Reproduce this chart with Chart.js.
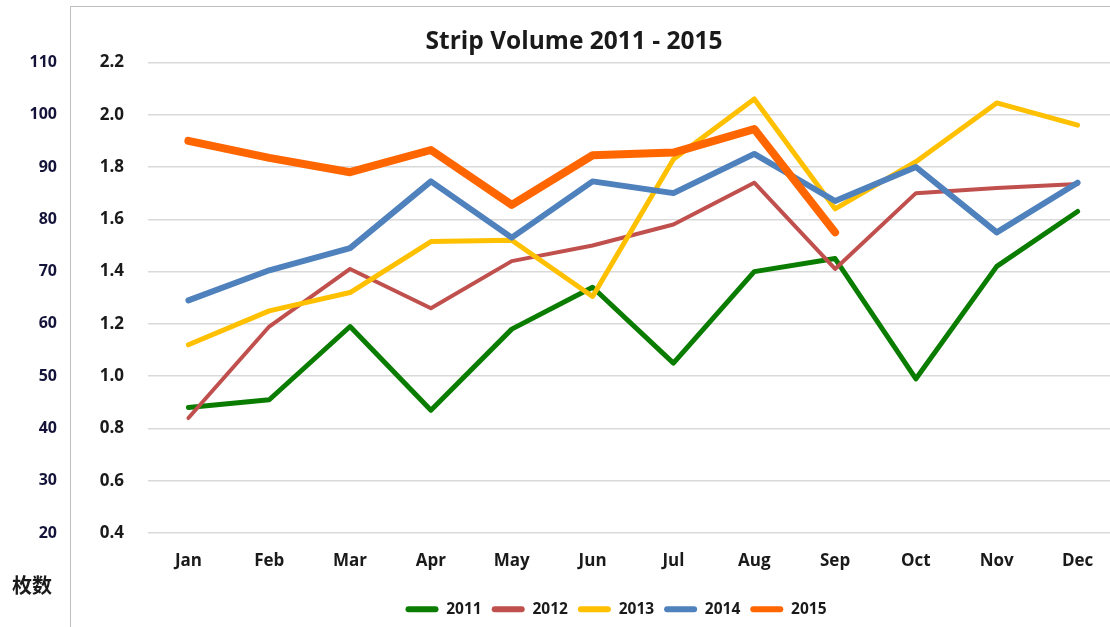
<!DOCTYPE html>
<html>
<head>
<meta charset="utf-8">
<script src="https://cdn.jsdelivr.net/npm/chart.js@4/dist/chart.umd.min.js"></script>
<style>
  html, body { margin: 0; padding: 0; background: #fff; overflow: hidden; }
  #frame { position: absolute; left: 70px; top: 6px; width: 1100px; height: 700px; border: 1px solid #bfbfbf; }
  #wrap { position: absolute; left: 0; top: 0; width: 1118px; height: 627px; }
  #unit { position: absolute; left: 12px; top: 570px; font: bold 20px "Noto Sans CJK SC", sans-serif; color: #1a1a1a; }
</style>
</head>
<body>
<div id="frame"></div>
<div id="wrap"><canvas id="chart"></canvas></div>
<div id="unit">枚数</div>
<script>
const months = ['Jan', 'Feb', 'Mar', 'Apr', 'May', 'Jun', 'Jul', 'Aug', 'Sep', 'Oct', 'Nov', 'Dec'];
const years = ['2011', '2012', '2013', '2014', '2015'];
const vol2011 = [0.88, 0.91, 1.19, 0.87, 1.18, 1.34, 1.05, 1.40, 1.45, 0.99, 1.42, 1.63];
const vol2012 = [0.84, 1.19, 1.41, 1.26, 1.44, 1.50, 1.58, 1.74, 1.41, 1.70, 1.72, 1.735];
const vol2013 = [1.12, 1.25, 1.32, 1.515, 1.52, 1.305, 1.83, 2.06, 1.64, 1.82, 2.045, 1.96];
const vol2014 = [1.29, 1.405, 1.49, 1.745, 1.53, 1.745, 1.70, 1.85, 1.67, 1.80, 1.55, 1.74];
const vol2015 = [1.90, 1.835, 1.78, 1.865, 1.655, 1.845, 1.855, 1.945, 1.55];
const countTicks = [20, 30, 40, 50, 60, 70, 80, 90, 100, 110];

const colors = ['#0a7d00', '#c0504d', '#ffc000', '#4f81bd', '#ff6600'];
const widths = [5, 4, 5, 6, 8];
const series = [vol2011, vol2012, vol2013, vol2014, vol2015];

const font = 'Open Sans';

// title and legend sit off-centre in the original, nudge them sideways
const nudge = {
  id: 'nudge',
  afterLayout(c) {
    c.titleBlock.left += 15; c.titleBlock.right += 15;
    c.legend.left += 57; c.legend.right += 57;
  }
};

const ctx = document.getElementById('chart').getContext('2d');
const chart = new Chart(ctx, {
  type: 'line',
  data: {
    labels: months,
    datasets: years.map((y, i) => ({
      label: y,
      data: series[i],
      borderColor: colors[i],
      backgroundColor: colors[i],
      borderWidth: widths[i],
      borderCapStyle: 'round',
      borderJoinStyle: 'round',
      pointRadius: 0,
      tension: 0,
      order: years.length - i
    }))
  },
  plugins: [nudge],
  options: {
    responsive: true,
    maintainAspectRatio: false,
    animation: false,
    layout: { padding: { left: 0, right: 0, top: 0, bottom: 0 } },
    plugins: {
      title: {
        display: true,
        text: 'Strip Volume 2011 - 2015',
        color: '#1a1a1a',
        font: { family: font, size: 24.5, weight: 'bold' },
        padding: { top: 27, bottom: 6 }
      },
      legend: {
        position: 'bottom',
        labels: {
          color: '#1a1a1a',
          font: { family: font, size: 15.5, weight: 'bold' },
          boxWidth: 33,
          boxHeight: 6,
          padding: 10,
          useBorderRadius: true,
          borderRadius: 3,
          generateLabels: (c) => Chart.defaults.plugins.legend.labels.generateLabels(c)
            .sort((a, b) => a.datasetIndex - b.datasetIndex)
            .map(l => Object.assign(l, { lineWidth: 0, fillStyle: colors[l.datasetIndex] }))
        }
      },
      tooltip: { enabled: false }
    },
    scales: {
      x: {
        offset: true,
        grid: { display: false, offset: true },
        border: { display: false },
        ticks: { color: '#1a1a1a', font: { family: font, size: 17, weight: 'bold' }, padding: 10, maxRotation: 0 },
        afterFit: s => { s.height += 10; }
      },
      y: {
        position: 'left',
        weight: 0,
        min: 0.4,
        max: 2.2,
        grid: { color: '#d9d9d9', lineWidth: 1.5, drawTicks: false },
        border: { display: false },
        ticks: {
          stepSize: 0.2,
          padding: 24,
          color: '#1a1a1a',
          font: { family: font, size: 17, weight: 'bold' },
          callback: v => v.toFixed(1)
        },
        afterFit: s => { s.width = 68; }
      },
      y2: {
        position: 'left',
        weight: 1,
        min: countTicks[0],
        max: countTicks[countTicks.length - 1],
        grid: { display: false, drawTicks: false },
        border: { display: false },
        ticks: {
          stepSize: 10,
          padding: 23,
          color: '#14143a',
          font: { family: font, size: 16, weight: 'bold' }
        },
        afterFit: s => { s.width = 80; }
      }
    }
  }
});
</script>
</body>
</html>
